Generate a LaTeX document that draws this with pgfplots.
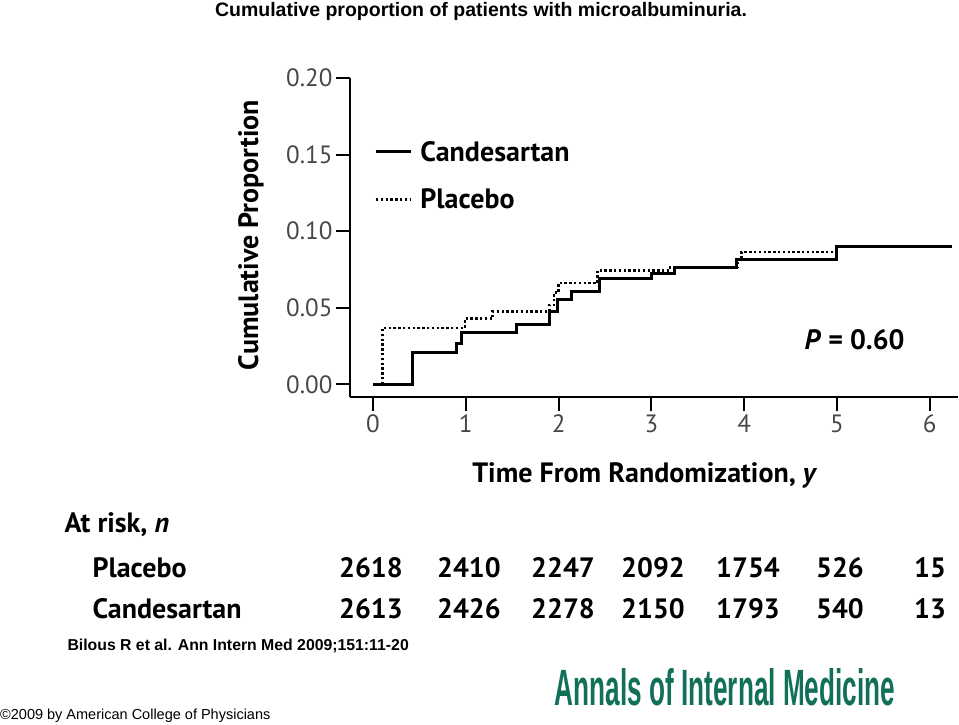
\documentclass[border=0pt]{standalone}
\usepackage{fontspec}
\setmainfont{PT Sans}
\newfontfamily\arialf{Liberation Sans}
\usepackage{graphicx}
\usepackage{pgfplots}
\pgfplotsset{compat=1.18}
\definecolor{annals}{RGB}{18,112,90}

\begin{document}
\begin{tikzpicture}[x=1pt,y=1pt]
\begin{axis}[
  name=ax,
  scale only axis, width=608pt, height=319pt,
  xmin=-0.248, xmax=6.304, ymin=-0.0082, ymax=0.2,
  axis x line*=bottom, axis y line*=left,
  axis line style={-, line width=2pt, black},
  xtick={0,1,2,3,4,5,6}, ytick={0,0.05,0.10,0.15,0.20},
  tick align=outside, major tick length=14pt,
  tick style={line width=2pt, black},
  /pgf/number format/assume math mode=true,
  yticklabel style={/pgf/number format/.cd, fixed, fixed zerofill, precision=2, /tikz/.cd,
     font=\fontsize{25}{25}\selectfont, text=black!72},
  xticklabel style={font=\fontsize{25}{25}\selectfont, text=black!72},
  xlabel={Time From Randomization, \textit{y}},
  ylabel={Cumulative Proportion},
  xlabel style={at={(axis description cs:0.485,-0.245)}, anchor=center, font=\bfseries\fontsize{28}{28}\selectfont},
  ylabel style={at={(axis description cs:-0.163,0.508)}, anchor=center, rotate=0, font=\bfseries\fontsize{28}{28}\selectfont},
  clip=false,
  legend style={draw=none, fill=none, font=\bfseries\fontsize{28}{28}\selectfont,
     at={(axis description cs:0.035,0.815)}, anchor=north west, row sep=22pt},
  legend cell align=left,
  legend image code/.code={\draw[#1] (0pt,0pt) -- (35pt,0pt); \path (41pt,0pt);},
]
\addplot[const plot, black, line width=3pt] coordinates {
 (0,0) (0.43,0.0209) (0.90,0.0266) (0.95,0.0342) (1.545,0.0390)
 (1.90,0.0473) (1.99,0.0556) (2.14,0.0608) (2.44,0.0691)
 (3.00,0.0725) (3.25,0.0765) (3.92,0.0816) (4.99,0.0902) (6.24,0.0902)
};
\addlegendentry{Candesartan}
\addplot[const plot, black, line width=2.5pt, dash pattern=on 2.4pt off 2.4pt] coordinates {
 (0,0) (0.10,0.0368) (0.99,0.0429) (1.29,0.0477) (1.90,0.0520)
 (1.95,0.0600) (2.00,0.0662) (2.42,0.0745) (3.20,0.0765)
 (3.93,0.0820) (3.97,0.0866) (5.00,0.0898) (6.24,0.0898)
};
\addlegendentry{Placebo}
\node[font=\bfseries\fontsize{28}{28}\selectfont] at (axis cs:5.19,0.029) {\textit{P} = 0.60};
\end{axis}
\begin{scope}[shift={(ax.south west)}, shift={(-350,-327)}]
\path[use as bounding box] (0,0) rectangle (959,724);
% title
\node[font=\arialf\bfseries\fontsize{19.5}{19.5}\selectfont] at (481,{724-11}) {Cumulative proportion of patients with microalbuminuria.};
% at risk table
\begin{scope}[every node/.style={font=\bfseries\fontsize{28}{28}\selectfont, anchor=base}]
\node[anchor=base west] at (61,{724-532}) {At risk, \textit{n}};
\node[anchor=base west] at (89,{724-577}) {Placebo};
\node[anchor=base west] at (89,{724-618}) {Candesartan};
\foreach \x/\a/\b in {371/2618/2613, 469/2410/2426, 563/2247/2278, 653/2092/2150, 748/1754/1793, 840/526/540, 930/15/13} {
  \node at (\x,{724-577}) {\a};
  \node at (\x,{724-618}) {\b};
}
\end{scope}
% footer
\node[anchor=west, font=\arialf\bfseries\fontsize{15.8}{15.8}\selectfont] at (64,{724-646}) {Bilous R et al. Ann Intern Med 2009;151:11-20};
\node[anchor=west, font=\arialf\fontsize{14.5}{14.5}\selectfont, inner sep=0pt] at (0,{724-716}) {\textcopyright2009 by American College of Physicians};
\node[text=annals, inner sep=0pt] at (725,{724-687}) {\resizebox{340pt}{37pt}{\arialf\bfseries Annals of Internal Medicine}};
\end{scope}
\end{tikzpicture}
\end{document}
